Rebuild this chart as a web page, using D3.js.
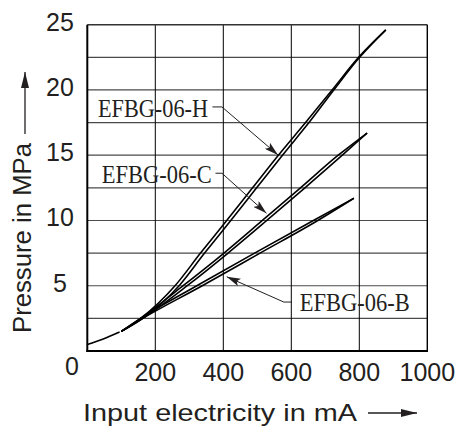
<!DOCTYPE html>
<html><head><meta charset="utf-8">
<script src="https://cdn.jsdelivr.net/npm/d3@7"></script>
<style>body{margin:0;background:#fff}svg{display:block}</style>
</head><body><svg id="c" width="459" height="433"></svg>
<script>
// ---- data ----
const xTickLabels = [200, 400, 600, 800, 1000];
const yTickLabels = [5, 10, 15, 20, 25];
const xGrid = [200, 400, 600, 800];
const yGrid = [2.5, 5, 7.5, 10, 12.5, 15, 17.5, 20, 22.5];

const baseCurrent = [0, 45, 95];
const basePressure = [0.5, 0.9, 1.45];

const pressureH = [1.5, 2.5, 5, 7.5, 10, 12.5, 15, 17.5, 20, 22.5, 24.6];
const currentHUp = [100, 157, 258, 333, 410, 486, 562, 642, 720, 798, 878];
const currentHDown = [100, 163, 270, 345, 422, 498, 574, 652, 725, 801, 878];

const pressureC = [1.5, 2.5, 5, 7.5, 10, 12.5, 15, 16.7];
const currentCUp = [100, 157, 282, 402, 515, 627, 738, 823];
const currentCDown = [100, 163, 294, 414, 528, 640, 750, 823];

const pressureB = [1.5, 2.5, 5, 7.5, 10, 11.7];
const currentBUp = [100, 157, 322, 492, 665, 784];
const currentBDown = [100, 163, 338, 508, 678, 784];

const labels = ["EFBG-06-H", "EFBG-06-C", "EFBG-06-B"];
// label anchor (mA, MPa), leader tick start/end, arrow tip
const labelPos = [[355, 17.93, "end"], [366, 12.9, "end"], [625, 3.03, "start"]];
const leaderFrom = [[368, 18.7], [377, 13.62], [602, 3.75]];
const leaderKnee = [[396, 18.7], [396, 13.62], [578, 3.75]];
const leaderTip = [[561, 15.02], [527, 10.55], [410, 5.69]];

// ---- chart ----
const svg = d3.select("#c");
const x = d3.scaleLinear().domain([0, 1000]).range([87.3, 427.3]);
const y = d3.scaleLinear().domain([0, 25]).range([351, 24.7]);
const ink = "#231f20";

// grid
svg.append("g").selectAll("line").data(yGrid).join("line")
  .attr("x1", x(0)).attr("x2", x(1000)).attr("y1", d => y(d)).attr("y2", d => y(d))
  .attr("stroke", "#4a4a4a").attr("stroke-width", 1.2);
svg.append("g").selectAll("line").data(xGrid).join("line")
  .attr("y1", y(0)).attr("y2", y(25)).attr("x1", d => x(d)).attr("x2", d => x(d))
  .attr("stroke", "#000").attr("stroke-width", 1);
// frame
svg.append("line").attr("x1", x(0)).attr("x2", x(1000)).attr("y1", y(25)).attr("y2", y(25)).attr("stroke", "#333").attr("stroke-width", 1.4);
svg.append("line").attr("x1", x(1000)).attr("x2", x(1000)).attr("y1", y(0)).attr("y2", y(25)).attr("stroke", "#000").attr("stroke-width", 1.4);
svg.append("line").attr("x1", x(0)).attr("x2", x(0)).attr("y1", y(0) + 1).attr("y2", y(25)).attr("stroke", "#000").attr("stroke-width", 2);
svg.append("line").attr("x1", x(0) - 1).attr("x2", x(1000) + 0.7).attr("y1", y(0)).attr("y2", y(0)).attr("stroke", "#000").attr("stroke-width", 2);

// curves
const line = d3.line().x(d => x(d[0])).y(d => y(d[1])).curve(d3.curveMonotoneX);
const zip = (cs, ps) => cs.map((c, i) => [c, ps[i]]);
const series = [
  zip(baseCurrent, basePressure),
  zip(currentHUp, pressureH), zip(currentHDown, pressureH),
  zip(currentCUp, pressureC), zip(currentCDown, pressureC),
  zip(currentBUp, pressureB), zip(currentBDown, pressureB)
];
svg.append("g").selectAll("path").data(series).join("path")
  .attr("d", line).attr("fill", "none").attr("stroke", "#000")
  .attr("stroke-width", 1.6).attr("stroke-linejoin", "round");

// leaders
const defs = svg.append("defs");
defs.append("marker").attr("id", "ah").attr("viewBox", "0 0 14 8").attr("refX", 14).attr("refY", 4)
  .attr("markerWidth", 14).attr("markerHeight", 8).attr("markerUnits", "userSpaceOnUse").attr("orient", "auto")
  .append("path").attr("d", "M0,0 L14,4 L0,8 L3,4 Z").attr("fill", ink);
labels.forEach((t, i) => {
  svg.append("path")
    .attr("d", d3.line()([[x(leaderFrom[i][0]), y(leaderFrom[i][1])], [x(leaderKnee[i][0]), y(leaderKnee[i][1])], [x(leaderTip[i][0]), y(leaderTip[i][1])]]))
    .attr("fill", "none").attr("stroke", ink).attr("stroke-width", 1).attr("marker-end", "url(#ah)");
  svg.append("text").attr("x", x(labelPos[i][0])).attr("y", y(labelPos[i][1]))
    .attr("text-anchor", labelPos[i][2]).attr("font-family", "Liberation Serif, Times New Roman, serif")
    .attr("font-size", 26).attr("fill", ink)
    .attr("textLength", 110).attr("lengthAdjust", "spacingAndGlyphs").text(t);
});

// tick labels
const sans = "Liberation Sans, Arial, sans-serif";
svg.append("g").selectAll("text").data(xTickLabels).join("text")
  .attr("x", d => x(d)).attr("y", 381).attr("text-anchor", "middle")
  .attr("font-family", sans).attr("font-size", 25).attr("fill", ink).text(d => d);
svg.append("g").selectAll("text").data(yTickLabels).join("text")
  .attr("x", 60).attr("y", d => y(d) + 6).attr("text-anchor", "middle")
  .attr("font-family", sans).attr("font-size", 25).attr("fill", ink).text(d => d);
svg.append("text").attr("x", 72).attr("y", 375).attr("text-anchor", "middle")
  .attr("font-family", sans).attr("font-size", 25).attr("fill", ink).text("0");

// axis titles
svg.append("text").attr("x", 83).attr("y", 421).attr("font-family", sans).attr("font-size", 24)
  .attr("fill", ink).attr("textLength", 274).attr("lengthAdjust", "spacingAndGlyphs").text("Input electricity in mA");
defs.append("marker").attr("id", "ah2").attr("viewBox", "0 0 16 8").attr("refX", 16).attr("refY", 4)
  .attr("markerWidth", 16).attr("markerHeight", 8).attr("markerUnits", "userSpaceOnUse").attr("orient", "auto")
  .append("path").attr("d", "M0,0 L16,4 L0,8 Z").attr("fill", ink);
svg.append("line").attr("x1", 368).attr("x2", 417).attr("y1", 413).attr("y2", 413)
  .attr("stroke", ink).attr("stroke-width", 1.3).attr("marker-end", "url(#ah2)");

svg.append("text").attr("transform", "translate(31,333) rotate(-90)")
  .attr("font-family", sans).attr("font-size", 25).attr("fill", ink)
  .attr("textLength", 190).attr("lengthAdjust", "spacingAndGlyphs").text("Pressure in MPa");
svg.append("line").attr("x1", 25).attr("x2", 25).attr("y1", 134).attr("y2", 72)
  .attr("stroke", ink).attr("stroke-width", 1.3).attr("marker-end", "url(#ah2)");
</script></body></html>
